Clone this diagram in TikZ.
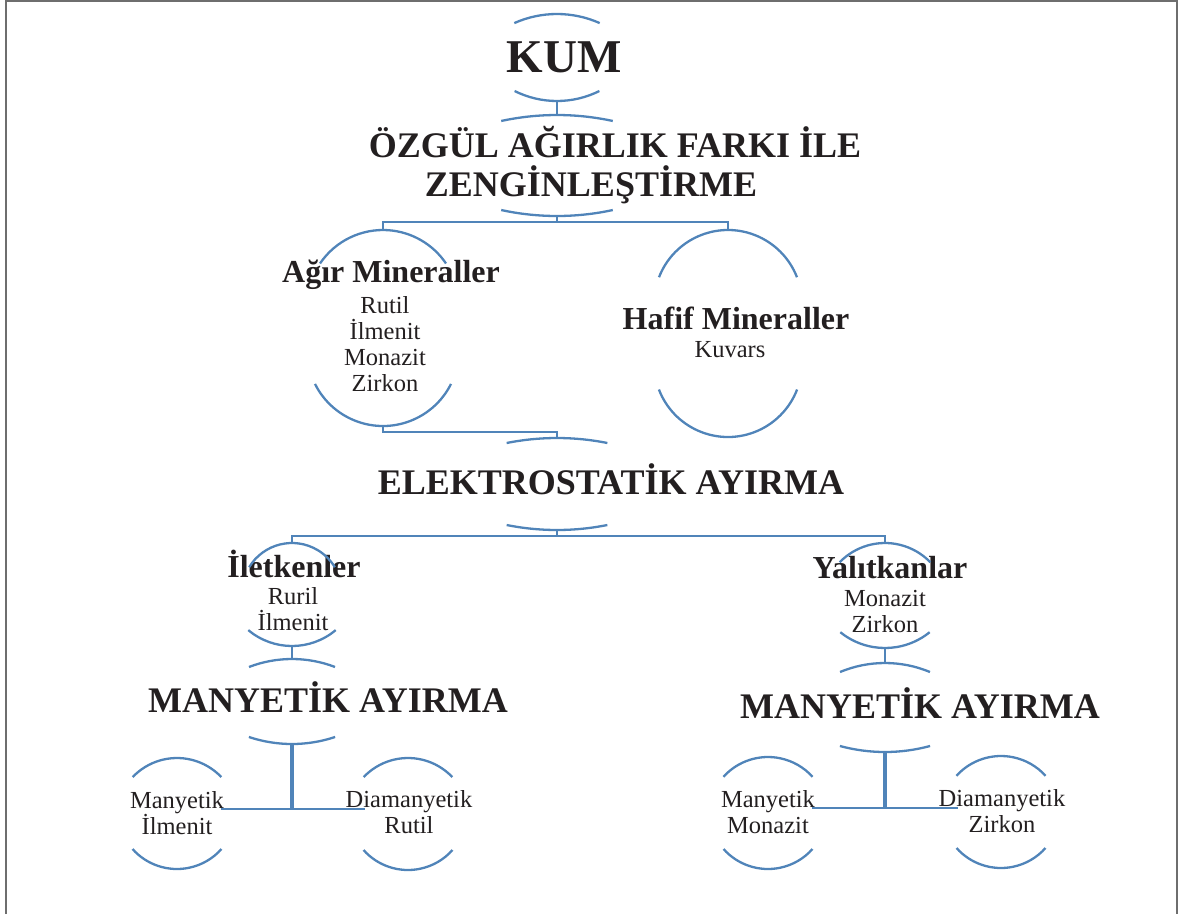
\documentclass[tikz,border=0pt]{standalone}
\usepackage{fontspec}
\setmainfont{Liberation Serif}

\definecolor{arcblue}{RGB}{80,132,185}
\definecolor{ink}{RGB}{35,31,32}

% arc above / below a label: name, x, y of the outer point, radius, half angle
\newcommand\toprim[5]{%
  \coordinate (#1) at (#2,#3);
  \draw[rim] (#1) ++({-#4*sin(#5)},{#4-#4*cos(#5)}) arc[start angle=270-#5, end angle=270+#5, radius=#4];}
\newcommand\botrim[5]{%
  \coordinate (#1) at (#2,#3);
  \draw[rim] (#1) ++({-#4*sin(#5)},{-#4+#4*cos(#5)}) arc[start angle=90+#5, end angle=90-#5, radius=#4];}

\begin{document}
\begin{tikzpicture}[x=1pt, y=-1pt,
    rim/.style={draw=arcblue, line width=2.3pt},
    link/.style={draw=arcblue, line width=2.8pt},
    stemline/.style={draw=arcblue, line width=3.6pt},
    big/.style={font=\bfseries\fontsize{36}{39}\selectfont, text=ink, inner sep=0pt, anchor=base, align=center},
    head/.style={font=\bfseries\fontsize{32}{34}\selectfont, text=ink, inner sep=0pt, anchor=base},
    item/.style={font=\fontsize{24.5}{26}\selectfont, text=ink, inner sep=0pt, anchor=base, align=center}]

    \useasboundingbox (0,0) rectangle (1179,914);
    \draw[line width=1.3pt, draw={rgb,255:red,110;green,110;blue,110}] (6,914) -- (6,1) -- (1177,1) -- (1177,914);

    % Labels (base = last line)
    \node[big, font=\bfseries\fontsize{47}{50}\selectfont] (kum) at (564,72) {KUM};
    \node[big] (ozgul) at (615,196) {ÖZGÜL AĞIRLIK FARKI İLE\\ZENGİNLEŞTİRME\hspace*{48pt}};
    \node[head] (agir) at (391,282) {Ağır Mineraller};
    \node[item] (agir-list) at (385,391) {Rutil\\İlmenit\\Monazit\\Zirkon};
    \node[head] (hafif) at (736,329) {Hafif Mineraller};
    \node[item] (hafif-list) at (730,357) {Kuvars};
    \node[big] (elek) at (611,494) {ELEKTROSTATİK AYIRMA};
    \node[head] (ilet) at (294,577) {İletkenler};
    \node[item] (ilet-list) at (293,630) {Ruril\\İlmenit};
    \node[head] (yalit) at (890,578) {Yalıtkanlar};
    \node[item] (yalit-list) at (885,632) {Monazit\\Zirkon};
    \node[big] (many1) at (328,712) {MANYETİK AYIRMA};
    \node[big] (many2) at (920,718) {MANYETİK AYIRMA};
    \node[item] (mag1) at (177,834) {Manyetik\\İlmenit};
    \node[item] (dia1) at (409,833) {Diamanyetik\\Rutil};
    \node[item] (mag2) at (768,833) {Manyetik\\Monazit};
    \node[item] (dia2) at (1002,832) {Diamanyetik\\Zirkon};

    % Arcs round the labels
    \toprim{kum-t}{557}{14}{105}{24}
    \botrim{kum-b}{557}{101}{95}{26.5}
    \toprim{ozgul-t}{557}{115}{264}{12.2}
    \botrim{ozgul-b}{557}{216}{264}{12.2}
    \toprim{agir-t}{383}{230}{76}{56}
    \botrim{agir-b}{383}{426}{76}{63.5}
    \toprim{hafif-t}{728}{230}{74}{68.8}
    \botrim{hafif-b}{728}{437}{74}{69}
    \toprim{elek-t}{557}{438}{257}{11.3}
    \botrim{elek-b}{557}{530}{257}{11.3}
    \toprim{ilet-t}{292}{543}{50}{59}
    \botrim{ilet-b}{292}{646}{68}{40}
    \toprim{yalit-t}{885}{543}{63}{46}
    \botrim{yalit-b}{885}{648}{71}{39}
    \toprim{many1-t}{292}{659}{120}{21}
    \botrim{many1-b}{292}{744}{136}{18.5}
    \toprim{many2-t}{885}{663}{117}{22.6}
    \botrim{many2-b}{885}{752}{172}{15.2}
    \toprim{mag1-t}{177}{758}{61}{46.5}
    \botrim{mag1-b}{177}{869}{59.5}{48.4}
    \toprim{dia1-t}{408}{758}{61}{46.5}
    \botrim{dia1-b}{408}{870}{59.5}{48.4}
    \toprim{mag2-t}{768}{757}{60}{48}
    \botrim{mag2-b}{768}{869}{59.5}{48.4}
    \toprim{dia2-t}{1001}{756}{60}{48}
    \botrim{dia2-b}{1001}{868}{59.5}{48.4}

    % Side points of the last labels
    \coordinate (mag1-e) at (221,809);
    \coordinate (dia1-w) at (365,809);
    \coordinate (mag2-e) at (812,808);
    \coordinate (dia2-w) at (958,808);

    % Connectors
    \draw[link] (kum-b) -- (ozgul-t);
    \draw[link] (ozgul-b) -- ++(0,6) -| (agir-t);
    \draw[link] (ozgul-b) -- ++(0,6) -| (hafif-t);
    \draw[link] (agir-b) -- ++(0,6) -| (elek-t);
    \draw[link] (elek-b) -- ++(0,6) -| (ilet-t);
    \draw[link] (elek-b) -- ++(0,6) -| (yalit-t);
    \draw[link] (ilet-b) -- (many1-t);
    \draw[link] (yalit-b) -- (many2-t);
    \draw[stemline] (many1-b) -- (many1-b |- mag1-e);
    \draw[link] (mag1-e) -- (dia1-w);
    \draw[stemline] (many2-b) -- (many2-b |- mag2-e);
    \draw[link] (mag2-e) -- (dia2-w);

\end{tikzpicture}
\end{document}
